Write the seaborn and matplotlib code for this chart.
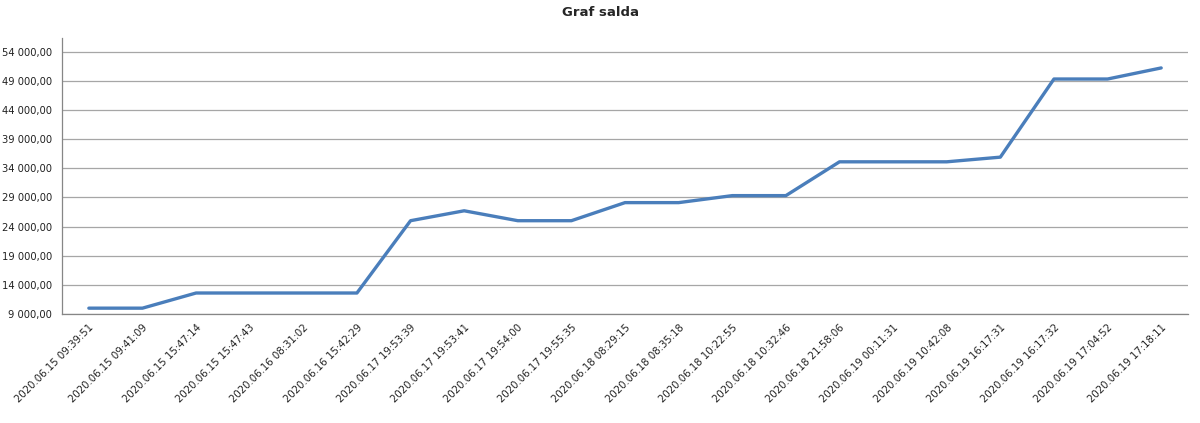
import numpy as np
import pandas as pd
import seaborn as sns
import matplotlib.pyplot as plt
from matplotlib.ticker import FixedLocator

timestamps = [
    "2020.06.15 09:39:51", "2020.06.15 09:41:09", "2020.06.15 15:47:14",
    "2020.06.15 15:47:43", "2020.06.16 08:31:02", "2020.06.16 15:42:29",
    "2020.06.17 19:53:39", "2020.06.17 19:53:41", "2020.06.17 19:54:00",
    "2020.06.17 19:55:35", "2020.06.18 08:29:15", "2020.06.18 08:35:18",
    "2020.06.18 10:22:55", "2020.06.18 10:32:46", "2020.06.18 21:58:06",
    "2020.06.19 00:11:31", "2020.06.19 10:42:08", "2020.06.19 16:17:31",
    "2020.06.19 16:17:32", "2020.06.19 17:04:52", "2020.06.19 17:18:11",
]
saldo = [
    10000, 10000, 12600, 12600, 12600, 12600,
    25000, 26700, 25000, 25000, 28100, 28100,
    29300, 29300, 35100, 35100, 35100, 35900,
    49300, 49300, 51200,
]
y_ticks = [9000, 14000, 19000, 24000, 29000, 34000, 39000, 44000, 49000, 54000]
y_tick_labels = ["9 000,00", "14 000,00", "19 000,00", "24 000,00", "29 000,00",
                 "34 000,00", "39 000,00", "44 000,00", "49 000,00", "54 000,00"]

df = pd.DataFrame({"idx": np.arange(len(timestamps)), "cas": timestamps, "saldo": saldo})

sns.set_style("white")
plt.rcParams["font.family"] = ["DejaVu Sans"]

fig = plt.figure(figsize=(12, 4.23), dpi=100)
ax = fig.add_axes([0.0517, 0.2577, 0.9383, 0.652])

sns.lineplot(data=df, x="idx", y="saldo", ax=ax, color="#4a7ebb", linewidth=2.4,
             sort=False, legend=False)

ax.set_xlim(-0.5, len(timestamps) - 0.5)
ax.set_ylim(9000, 56300)
ax.set_yticks(y_ticks)
ax.set_yticklabels(y_tick_labels, fontsize=7.2, color="#222222")
ax.yaxis.grid(True, color="#a6a6a6", linewidth=0.9)
ax.set_axisbelow(True)

ax.set_xticks(df["idx"])
ax.set_xticklabels(df["cas"], rotation=45, ha="right", rotation_mode="anchor",
                   fontsize=7.3, color="#222222")
ax.tick_params(axis="x", which="major", length=0, pad=6)
ax.xaxis.set_minor_locator(FixedLocator(np.arange(-0.5, len(timestamps), 1.0)))
ax.tick_params(axis="x", which="minor", length=4, color="#868686", direction="out")
ax.tick_params(axis="y", length=4, color="#868686", direction="out", pad=3)

for s in ["top", "right"]:
    ax.spines[s].set_visible(False)
for s in ["left", "bottom"]:
    ax.spines[s].set_color("#868686")
    ax.spines[s].set_linewidth(0.9)

ax.set_xlabel("")
ax.set_ylabel("")
fig.suptitle("Graf salda", fontsize=9.5, fontweight="bold", y=0.985)

fig.savefig("out.png", dpi=100, facecolor="white")
